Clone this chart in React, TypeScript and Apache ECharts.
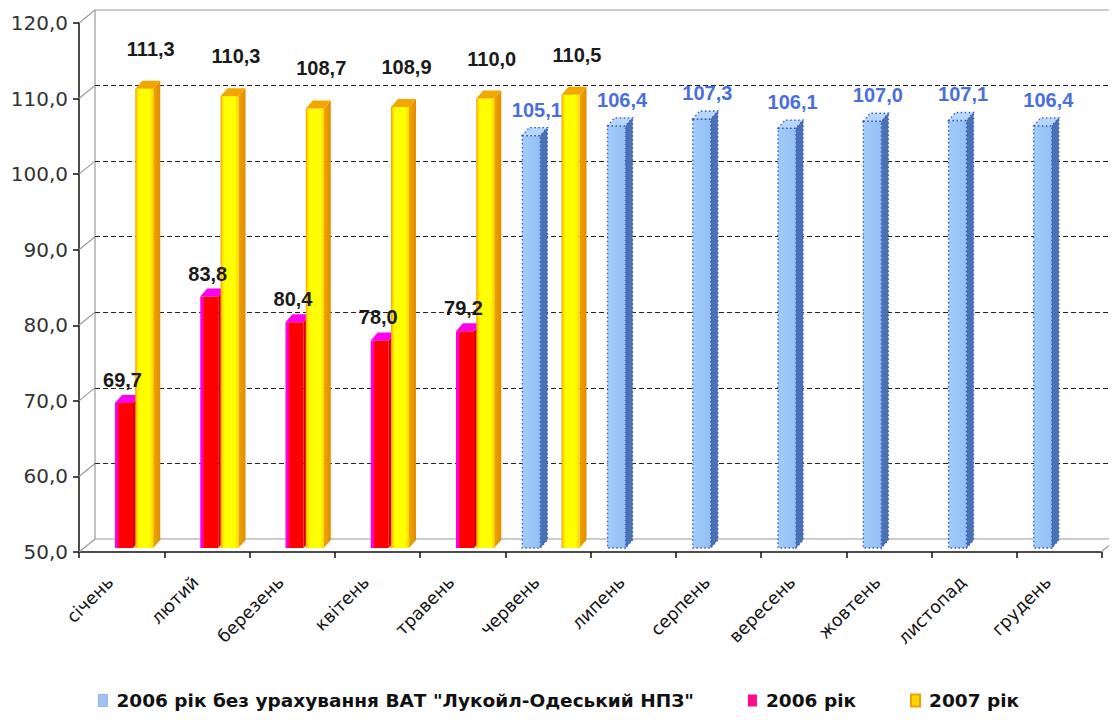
import React, { useEffect, useRef } from "react";
import * as echarts from "echarts";

const months = [
  "січень", "лютий", "березень", "квітень", "травень", "червень",
  "липень", "серпень", "вересень", "жовтень", "листопад", "грудень",
];
const yTicks = [50, 60, 70, 80, 90, 100, 110, 120];
const blueName = '2006 рік без урахування ВАТ "Лукойл-Одеський НПЗ"';
const redName = "2006 рік";
const yellowName = "2007 рік";
const blueValues = [null, null, null, null, null, 105.1, 106.4, 107.3, 106.1, 107.0, 107.1, 106.4];
const redValues = [69.7, 83.8, 80.4, 78.0, 79.2, null, null, null, null, null, null, null];
const yellowValues = [111.3, 110.3, 108.7, 108.9, 110.0, 110.5, null, null, null, null, null, null];

const FRONT = { left: 79, top: 23, right: 15, bottom: 168 };
const DX = 16;
const DY = 13;
const FACE_W = 18;
const DEPTH_X = 7;
const DEPTH_Y = 8;
const BAR_LIFT = 4;

const fmt = (v: number) => v.toFixed(1).replace(".", ",");

const toData = (arr: (number | null)[]) =>
  arr.map((v, i) => (v == null ? null : [i, v])).filter((d) => d != null);

type BarStyle = {
  off: number;
  front: any;
  side: any;
  top: any;
  stroke?: string;
  dash?: number[];
  labelColor: string;
  gap: number;
  lx: number;
};

function makeRender(st: BarStyle) {
  return (params: any, api: any) => {
    const v = api.value(1);
    if (isNaN(v)) return null;
    const i = api.value(0);
    const p = api.coord([i, v]);
    const yTop = p[1];
    const yBot = api.coord([i, 50])[1] - BAR_LIFT;
    const cw = api.size([1, 0])[0];
    const x0 = p[0] + st.off * cw;
    const fw = FACE_W;
    const strokeStyle = st.stroke
      ? { stroke: st.stroke, lineWidth: 1.3, lineDash: st.dash }
      : { stroke: null };
    return {
      type: "group",
      children: [
        {
          type: "polygon",
          shape: {
            points: [
              [x0 + fw, yTop],
              [x0 + fw + DEPTH_X, yTop - DEPTH_Y],
              [x0 + fw + DEPTH_X, yBot - DEPTH_Y],
              [x0 + fw, yBot],
            ],
          },
          style: { fill: st.side, ...strokeStyle },
        },
        {
          type: "rect",
          shape: { x: x0, y: yTop, width: fw, height: yBot - yTop },
          style: { fill: st.front, ...strokeStyle },
        },
        {
          type: "polygon",
          shape: {
            points: [
              [x0, yTop],
              [x0 + fw, yTop],
              [x0 + fw + DEPTH_X, yTop - DEPTH_Y],
              [x0 + DEPTH_X, yTop - DEPTH_Y],
            ],
          },
          style: { fill: st.top, ...strokeStyle },
        },
        {
          type: "text",
          z2: 50,
          x: x0 + (fw + DEPTH_X) / 2 + st.lx,
          y: yTop - DEPTH_Y - st.gap,
          style: {
            text: fmt(v),
            fill: st.labelColor,
            font: 'bold 20px "Liberation Sans", Arial, sans-serif',
            align: "center",
            verticalAlign: "middle",
          },
        },
      ],
    };
  };
}

const hGrad = (stops: [number, string][]) =>
  new echarts.graphic.LinearGradient(
    0, 0, 1, 0,
    stops.map(([offset, color]) => ({ offset, color }))
  );

export default function App() {
  const ref = useRef<HTMLDivElement>(null);
  useEffect(() => {
    if (!ref.current) return;
    const chart = echarts.init(ref.current, null, { renderer: "svg" });

    const blueStyle: BarStyle = {
      off: -0.3,
      front: hGrad([[0, "#a2ccfa"], [1, "#93bff3"]]),
      side: "#4a72b0",
      top: "#b8d6fb",
      stroke: "#3158c4",
      dash: [1.5, 2.5],
      labelColor: "#4a6fdc",
      gap: 18,
      lx: 2,
    };
    const redStyle: BarStyle = {
      off: -0.078,
      front: hGrad([[0, "#ff00ff"], [0.16, "#ff00b0"], [0.24, "#ff0000"], [1, "#ff0000"]]),
      side: "#d80000",
      top: "#ff00ee",
      labelColor: "#1a1a1a",
      gap: 15,
      lx: -5,
    };
    const yellowStyle: BarStyle = {
      off: 0.16,
      front: hGrad([[0, "#f0a000"], [0.12, "#ffe400"], [0.25, "#ffff00"], [0.8, "#ffff00"], [1, "#ffd400"]]),
      side: hGrad([[0, "#f0a400"], [1, "#e08c00"]]),
      top: "#f4a600",
      labelColor: "#1a1a1a",
      gap: 32,
      lx: 3,
    };

    const decoData: number[][] = yTicks.map((t) => [0, t, 0]);
    decoData.push([0, 50, 1]);

    chart.setOption({
      animation: false,
      backgroundColor: "#ffffff",
      grid: [
        {
          left: FRONT.left + DX,
          top: FRONT.top - DY,
          right: FRONT.right - DX,
          bottom: FRONT.bottom + DY,
          show: true,
          borderColor: "#9a9a9a",
          borderWidth: 1.2,
          backgroundColor: "transparent",
        },
        { ...FRONT },
      ],
      xAxis: [
        { gridIndex: 0, type: "category", data: months, show: false },
        {
          gridIndex: 1,
          type: "category",
          data: months,
          axisLine: { show: true, lineStyle: { color: "#111", width: 1.5 } },
          axisTick: { show: true, length: 6, lineStyle: { color: "#111", width: 1.5 } },
          axisLabel: {
            rotate: 45,
            margin: 16,
            padding: [0, 16, 0, 0],
            fontSize: 17.5,
            fontFamily: '"DejaVu Sans", sans-serif',
            color: "#111",
            interval: 0,
          },
        },
      ],
      yAxis: [
        {
          gridIndex: 0,
          type: "value",
          min: 50,
          max: 120,
          interval: 10,
          axisLine: { show: false },
          axisTick: { show: false },
          axisLabel: { show: false },
          splitLine: {
            show: true,
            showMinLine: false,
            showMaxLine: false,
            lineStyle: { color: "#222", type: [5, 3], width: 1.2 },
          },
        },
        {
          gridIndex: 1,
          type: "value",
          min: 50,
          max: 120,
          interval: 10,
          axisLine: { show: true, lineStyle: { color: "#111", width: 1.5 } },
          axisTick: { show: true, length: 6, lineStyle: { color: "#111", width: 1.5 } },
          axisLabel: {
            formatter: (v: number) => fmt(v),
            fontSize: 20,
            fontFamily: '"DejaVu Sans", sans-serif',
            color: "#333",
            margin: 11,
          },
          splitLine: { show: false },
        },
      ],
      legend: {
        bottom: 5,
        left: "center",
        itemGap: 54,
        itemWidth: 9,
        itemHeight: 12,
        icon: "rect",
        textStyle: {
          fontFamily: '"DejaVu Sans", sans-serif',
          fontWeight: "bold",
          fontSize: 18.5,
          color: "#111",
          padding: [0, 0, 0, 4],
        },
        data: [
          { name: blueName, itemStyle: { color: "#9fc4f4", borderColor: "#5d84d0", borderWidth: 1, borderType: "dotted" } },
          { name: redName, itemStyle: { color: "#ff0a8c" } },
          { name: yellowName, itemStyle: { color: "#ffd800", borderColor: "#f0a000", borderWidth: 2 } },
        ],
      },
      series: [
        {
          type: "custom",
          name: "frame",
          silent: true,
          xAxisIndex: 0,
          yAxisIndex: 0,
          data: decoData,
          encode: { x: 0, y: 1 },
          z: 1,
          renderItem: (params: any, api: any) => {
            const v = api.value(1);
            const side = api.value(2);
            const y = api.coord([0, v])[1];
            const cs = params.coordSys;
            const x = side === 1 ? cs.x + cs.width : cs.x;
            return {
              type: "line",
              shape: { x1: x - DX, y1: y + DY, x2: x, y2: y },
              style: { stroke: "#9a9a9a", lineWidth: 1.2 },
            };
          },
        },
        {
          type: "custom",
          name: blueName,
          xAxisIndex: 1,
          yAxisIndex: 1,
          data: toData(blueValues),
          encode: { x: 0, y: 1 },
          itemStyle: { color: "#9fc4f4" },
          renderItem: makeRender(blueStyle),
          z: 3,
        },
        {
          type: "custom",
          name: redName,
          xAxisIndex: 1,
          yAxisIndex: 1,
          data: toData(redValues),
          encode: { x: 0, y: 1 },
          itemStyle: { color: "#ff0a8c" },
          renderItem: makeRender(redStyle),
          z: 3,
        },
        {
          type: "custom",
          name: yellowName,
          xAxisIndex: 1,
          yAxisIndex: 1,
          data: toData(yellowValues),
          encode: { x: 0, y: 1 },
          itemStyle: { color: "#ffd800" },
          renderItem: makeRender(yellowStyle),
          z: 3,
        },
      ],
    });
    return () => chart.dispose();
  }, []);

  return <div ref={ref} style={{ width: 1117, height: 720, margin: -8 }} />;
}
